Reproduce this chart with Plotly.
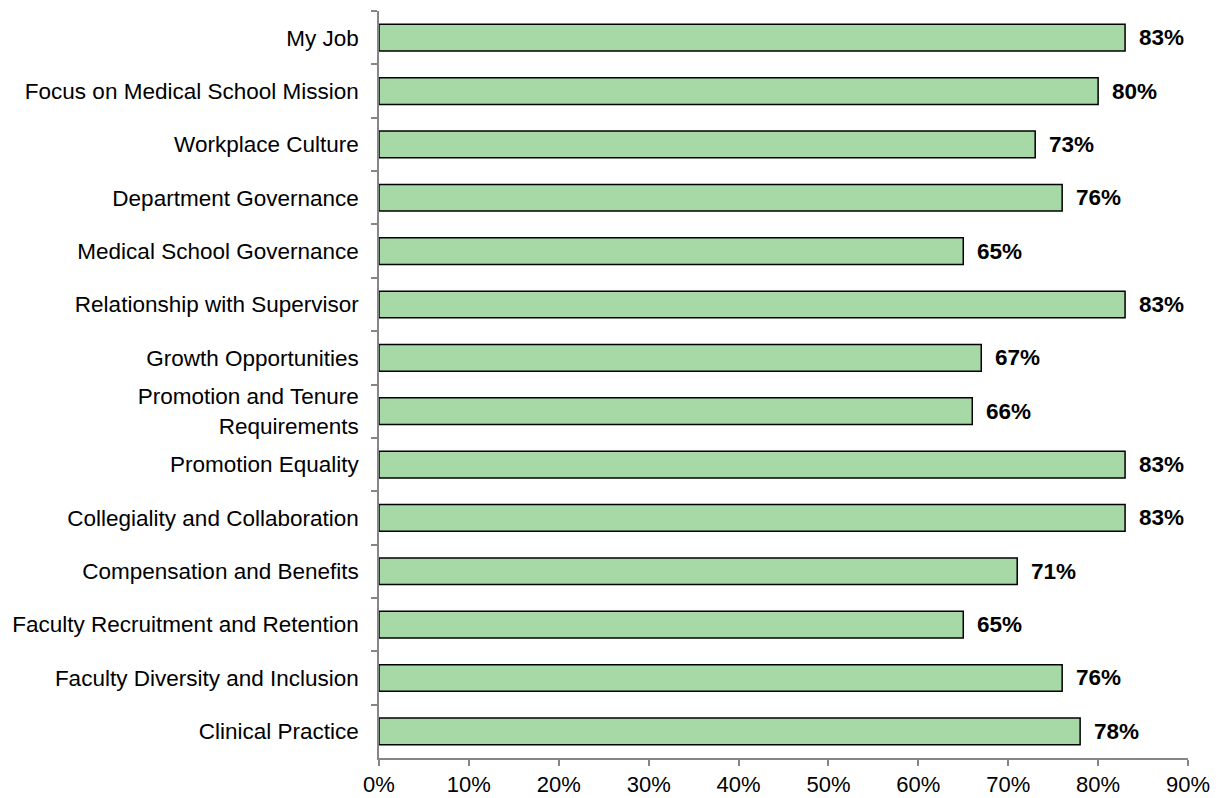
import plotly.graph_objects as go

# Survey domains (top to bottom) and share of favourable responses
categories = [
    "My Job",
    "Focus on Medical School Mission",
    "Workplace Culture",
    "Department Governance",
    "Medical School Governance",
    "Relationship with Supervisor",
    "Growth Opportunities",
    "Promotion and Tenure<br>Requirements",
    "Promotion Equality",
    "Collegiality and Collaboration",
    "Compensation and Benefits",
    "Faculty Recruitment and Retention",
    "Faculty Diversity and Inclusion",
    "Clinical Practice",
]
values = [0.83, 0.80, 0.73, 0.76, 0.65, 0.83, 0.67, 0.66, 0.83, 0.83, 0.71, 0.65, 0.76, 0.78]
tick_vals = [0.0, 0.1, 0.2, 0.3, 0.4, 0.5, 0.6, 0.7, 0.8, 0.9]
tick_text = ["0%", "10%", "20%", "30%", "40%", "50%", "60%", "70%", "80%", "90%"]

FONT = "Arial, Liberation Sans, sans-serif"
AXIS_GREY = "#868686"
LABEL_SIZE = 22.5

fig = go.Figure(
    go.Bar(
        x=values,
        y=categories,
        orientation="h",
        width=0.5,
        marker=dict(color="#A6D9A6", line=dict(color="#000000", width=1.5)),
        hoverinfo="x+y",
    )
)

# Bold value labels just right of each bar end
for cat, v in zip(categories, values):
    fig.add_annotation(
        x=v, y=cat, text=f"<b>{round(v * 100)}%</b>",
        xanchor="left", yanchor="middle", xshift=12, showarrow=False,
        font=dict(family=FONT, size=LABEL_SIZE, color="#000000"),
    )

fig.update_layout(
    width=1222, height=798,
    margin=dict(l=379, r=34, t=11, b=40, pad=0),
    paper_bgcolor="white", plot_bgcolor="white",
    showlegend=False,
    font=dict(family=FONT, size=LABEL_SIZE, color="#000000"),
    bargap=0.5,
)
fig.update_xaxes(
    range=[0, 0.9], tickvals=tick_vals, ticktext=tick_text,
    showgrid=False, zeroline=False, automargin=False,
    showline=True, linecolor=AXIS_GREY, linewidth=1.5,
    ticks="outside", ticklen=6, tickcolor=AXIS_GREY, tickwidth=1.5,
    ticklabelstandoff=0,
    tickfont=dict(family=FONT, size=22, color="#000000"),
)
fig.update_yaxes(
    autorange="reversed", type="category",
    showgrid=False, zeroline=False, automargin=False,
    showline=True, linecolor=AXIS_GREY, linewidth=1.5,
    ticks="outside", ticklen=6, tickcolor=AXIS_GREY, tickwidth=1.5,
    tickson="boundaries", ticklabelstandoff=14,
    tickfont=dict(family=FONT, size=LABEL_SIZE, color="#000000"),
)

fig.write_html("out.html")
